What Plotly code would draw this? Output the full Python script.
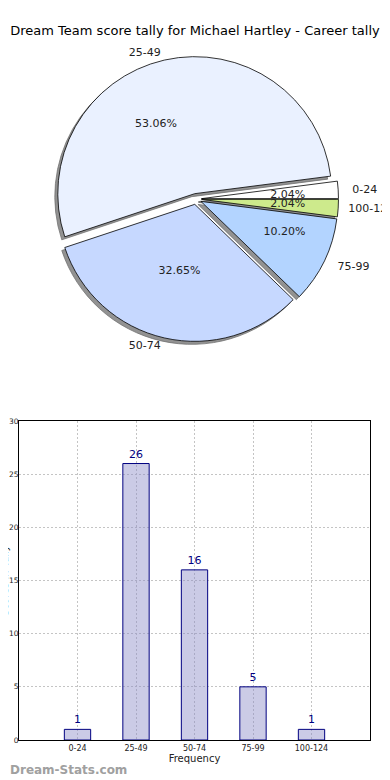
import plotly.graph_objects as go

categories = ["0-24", "25-49", "50-74", "75-99", "100-124"]
counts = [1, 26, 16, 5, 1]
pie_colors = ["#ffffff", "#eaf1ff", "#c6d8ff", "#b3d4ff", "#cdea8c"]
y_ticks = [0, 5, 10, 15, 20, 25, 30]

title_text = "Dream Team score tally for Michael Hartley - Career tally"
pie_labels = ["0-24", "25-49", "50-74", "75-99", "100-124"]
y_title = "Scores in Tally"
x_title = "Frequency"
watermark = "Dream-Stats.com"

FONT = "DejaVu Sans"
OFF = 8                      # the page body adds an 8px margin around the figure
W, H = 390 - OFF, 780 - OFF
# page-pixel geometry of the bar plot area
PL, PR, PT, PB = 19, 370, 421, 740
ML, MR, MT, MB = PL - OFF, W - (PR - OFF), 0, H - (PB - OFF)
PW, PH = W - ML - MR, H - MT - MB

def px_x(x):   # page pixel -> paper x
    return (x - OFF - ML) / PW

def px_y(y):   # page pixel -> paper y
    return (H - MB - (y - OFF)) / PH

def dom(cx, cy, r, dx=0, dy=0):
    return dict(x=[px_x(cx - r + dx), px_x(cx + r + dx)],
                y=[px_y(cy + r + dy), px_y(cy - r + dy)])

cx, cy, rad = 196, 199, 137
PULL = 0.04
# plotly's counterclockwise pies END the first slice at `rotation`; make it START at 3 o'clock
rot = 90 - 360 * counts[0] / sum(counts)
common = dict(labels=categories, values=counts, sort=False, direction="counterclockwise",
              rotation=rot, hoverinfo="skip", showlegend=False)
clear = dict(colors=["rgba(0,0,0,0)"] * 5, line=dict(width=0))
tfont = dict(family=FONT, size=11, color="#222")

fig = go.Figure()
# shadow
fig.add_trace(go.Pie(**common, textinfo="none", pull=[PULL] * 5,
                     domain=dom(cx, cy, rad * (1 + PULL), -3, 3),
                     marker=dict(colors=["rgba(110,110,110,0.75)"] * 5,
                                 line=dict(color="rgba(110,110,110,0.75)", width=1))))
# main pie
fig.add_trace(go.Pie(**common, textinfo="none", pull=[PULL] * 5,
                     domain=dom(cx, cy, rad * (1 + PULL)),
                     marker=dict(colors=pie_colors, line=dict(color="black", width=0.8))))

# percentage labels, split over transparent pies so neighbouring labels are not pushed apart
def pct_trace(show, pos, rscale):
    return go.Pie(**common, domain=dom(cx, cy, rad * rscale), marker=clear,
                  texttemplate="%{percent:.2%}",
                  textposition=[pos if s else "none" for s in show], textfont=tfont)

fig.add_trace(pct_trace([1, 1, 0, 1, 0], "outside", 0.52))
fig.add_trace(pct_trace([0, 0, 0, 0, 1], "outside", 0.52))
fig.add_trace(pct_trace([0, 0, 1, 0, 0], "inside", 1.0))

# category labels
def lab_trace(show, rscale):
    return go.Pie(**common, domain=dom(cx, cy, rad * rscale), marker=clear,
                  text=pie_labels, texttemplate="%{text}",
                  textposition=["outside" if s else "none" for s in show], textfont=tfont)

fig.add_trace(lab_trace([1, 0, 0, 1, 0], 1.12))
fig.add_trace(lab_trace([0, 1, 1, 0, 0], 1.05))
fig.add_trace(lab_trace([0, 0, 0, 0, 1], 1.09))

fig.add_trace(go.Bar(x=categories, y=counts, width=0.45,
                     marker=dict(color="rgba(140,140,200,0.45)", line=dict(color="#000080", width=1)),
                     text=[str(c) for c in counts], textposition="outside",
                     textfont=dict(family=FONT, size=11, color="#000080"),
                     cliponaxis=False, showlegend=False, hoverinfo="skip"))

grid = dict(showgrid=True, gridcolor="#c4c4c4", griddash="2px,2px", gridwidth=1)
fig.update_layout(
    width=W, height=H,
    margin=dict(l=ML, r=MR, t=MT, b=MB, autoexpand=False),
    paper_bgcolor="white", plot_bgcolor="white",
    font=dict(family=FONT, color="#222"),
    title=dict(text=title_text, xref="paper", x=px_x(195), xanchor="center",
               yref="paper", y=px_y(30), yanchor="middle", automargin=False,
               font=dict(family=FONT, size=13, color="black")),
    xaxis=dict(domain=[0, 1], range=[-1, 5], showline=True, linecolor="black", mirror=True,
               tickfont=dict(size=8, family=FONT, color="#222"), ticks="",
               title=dict(text=x_title, font=dict(size=10, family=FONT), standoff=2),
               zeroline=False, fixedrange=True, automargin=False, **grid),
    yaxis=dict(domain=[0, px_y(PT)], range=[0, 30], tickvals=y_ticks,
               showline=True, linecolor="black", mirror=True,
               tickfont=dict(size=7.5, family=FONT, color="#222"), ticks="",
               ticklabelstandoff=-2,
               zeroline=False, fixedrange=True, automargin=False, **grid),
    annotations=[
        dict(text=y_title, textangle=-90, x=px_x(PL), y=px_y((PT + PB) / 2),
             xref="paper", yref="paper", xanchor="right", yanchor="middle",
             xshift=-(PL - OFF) + 4, showarrow=False,
             font=dict(family=FONT, size=10, color="#222")),
        dict(text="<b>" + watermark + "</b>", x=px_x(PL), y=px_y(770),
             xref="paper", yref="paper", xanchor="left", yanchor="middle",
             showarrow=False, xshift=-(PL - OFF),
             font=dict(family=FONT, size=12, color="#a0a0a0")),
    ],
)

fig.write_html("out.html")
